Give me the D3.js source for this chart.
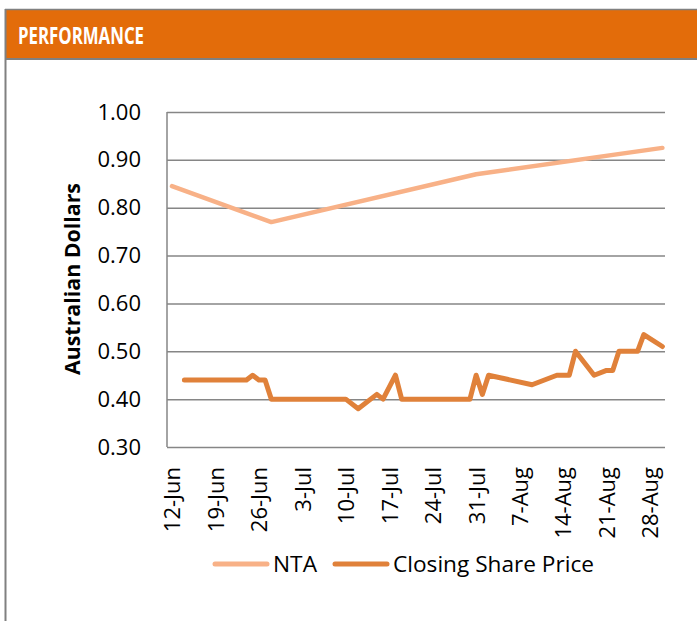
<!DOCTYPE html>
<html>
<head>
<meta charset="utf-8">
<script src="https://cdn.jsdelivr.net/npm/d3@7"></script>
<style>
  body { margin: 0; background: #fff; }
  text { font-family: "Open Sans", sans-serif; }
</style>
</head>
<body>
<svg id="chart"></svg>
<script>
// Data
const ntaDates = ['2015-06-12', '2015-06-28', '2015-07-31', '2015-08-30'];
const ntaValues = [0.845, 0.77, 0.87, 0.925];

const priceDates = ['2015-06-14', '2015-06-24', '2015-06-25', '2015-06-26', '2015-06-27', '2015-06-28',
    '2015-07-10', '2015-07-12', '2015-07-15', '2015-07-16', '2015-07-18', '2015-07-19',
    '2015-07-30', '2015-07-31', '2015-08-01', '2015-08-02', '2015-08-09', '2015-08-13',
    '2015-08-15', '2015-08-16', '2015-08-19', '2015-08-21', '2015-08-22', '2015-08-23',
    '2015-08-26', '2015-08-27', '2015-08-30'];
const priceValues = [0.44, 0.44, 0.45, 0.44, 0.44, 0.40,
    0.40, 0.38, 0.41, 0.40, 0.45, 0.40,
    0.40, 0.45, 0.41, 0.45, 0.43, 0.45,
    0.45, 0.50, 0.45, 0.46, 0.46, 0.50,
    0.50, 0.535, 0.51];

const tickDates = ['2015-06-12', '2015-06-19', '2015-06-26', '2015-07-03', '2015-07-10', '2015-07-17',
    '2015-07-24', '2015-07-31', '2015-08-07', '2015-08-14', '2015-08-21', '2015-08-28'];
const yTicks = [0.3, 0.4, 0.5, 0.6, 0.7, 0.8, 0.9, 1.0];

const seriesNames = ['NTA', 'Closing Share Price'];
const seriesColors = ['#F8B187', '#E0813A'];

const parse = d3.timeParse('%Y-%m-%d');

const W = 697, H = 621;
const margin = { top: 112, left: 167, right: 32, bottom: 174 };
const width = W - margin.left - margin.right;
const height = H - margin.top - margin.bottom;

const svg = d3.select('#chart')
    .attr('width', W)
    .attr('height', H);

// Panel frame and header band
svg.append('rect')
    .attr('x', 6).attr('y', 10)
    .attr('width', W - 6).attr('height', 48)
    .attr('fill', '#E36C0A');
svg.append('line')
    .attr('x1', 5).attr('x2', W).attr('y1', 9.5).attr('y2', 9.5)
    .attr('stroke', '#808080').attr('stroke-width', 1.5);
svg.append('line')
    .attr('x1', 5).attr('x2', W).attr('y1', 59).attr('y2', 59)
    .attr('stroke', '#808080').attr('stroke-width', 2);
svg.append('line')
    .attr('x1', 5.5).attr('x2', 5.5).attr('y1', 9).attr('y2', H)
    .attr('stroke', '#808080').attr('stroke-width', 2);
svg.append('text')
    .attr('x', 18).attr('y', 43.5)
    .attr('fill', '#fff')
    .attr('font-size', 24)
    .attr('font-weight', 'bold')
    .attr('textLength', 126)
    .attr('lengthAdjust', 'spacingAndGlyphs')
    .text('PERFORMANCE');

const chart = svg.append('g')
    .attr('transform', `translate(${margin.left},${margin.top})`);

// Scales: x domain padded a little either side as in the reference
const day = 864e5;
const xScale = d3.scaleTime()
    .domain([new Date(parse('2015-06-12') - 0.8 * day), new Date(+parse('2015-08-28') + 2.42 * day)])
    .range([0, width]);
const yScale = d3.scaleLinear()
    .domain([0.3, 1.0])
    .range([height, 0]);

// Y axis with gridlines
const yAxis = d3.axisLeft(yScale)
    .tickValues(yTicks)
    .tickFormat(d3.format('.2f'))
    .tickSize(-width)
    .tickPadding(26);
const yAxisG = chart.append('g').call(yAxis);
yAxisG.select('.domain').remove();
yAxisG.selectAll('.tick line')
    .attr('stroke', '#868686')
    .attr('stroke-width', 1.5);
yAxisG.selectAll('.tick text')
    .attr('font-size', 22)
    .attr('fill', '#000')
    .attr('font-family', '"Open Sans", sans-serif');

chart.append('line')
    .attr('x1', 0).attr('x2', 0).attr('y1', 0).attr('y2', height)
    .attr('stroke', '#868686').attr('stroke-width', 1.5);

// X axis, rotated labels
const xAxis = d3.axisBottom(xScale)
    .tickValues(tickDates.map(parse))
    .tickFormat(d3.timeFormat('%-d-%b'))
    .tickSize(0);
const xAxisG = chart.append('g')
    .attr('transform', `translate(0,${height})`)
    .call(xAxis);
xAxisG.select('.domain').remove();
xAxisG.selectAll('.tick text')
    .attr('transform', 'rotate(-90)')
    .attr('x', -20)
    .attr('y', 0)
    .attr('dy', '0.36em')
    .style('text-anchor', 'end')
    .attr('font-size', 22)
    .attr('fill', '#000')
    .attr('font-family', '"Open Sans", sans-serif');

// Y axis title
svg.append('text')
    .attr('transform', 'translate(80,279) rotate(-90)')
    .attr('text-anchor', 'middle')
    .attr('font-size', 21)
    .attr('font-weight', 'bold')
    .attr('textLength', 192)
    .attr('lengthAdjust', 'spacingAndGlyphs')
    .text('Australian Dollars');

// Lines
const line = d3.line()
    .x(d => xScale(d.date))
    .y(d => yScale(d.value));

const ntaData = ntaDates.map((d, i) => ({ date: parse(d), value: ntaValues[i] }));
const priceData = priceDates.map((d, i) => ({ date: parse(d), value: priceValues[i] }));

chart.append('path')
    .datum(ntaData)
    .attr('d', line)
    .attr('fill', 'none')
    .attr('stroke', seriesColors[0])
    .attr('stroke-width', 4.5)
    .attr('stroke-linejoin', 'round')
    .attr('stroke-linecap', 'round');

chart.append('path')
    .datum(priceData)
    .attr('d', line)
    .attr('fill', 'none')
    .attr('stroke', seriesColors[1])
    .attr('stroke-width', 5)
    .attr('stroke-linejoin', 'round')
    .attr('stroke-linecap', 'round');

// Legend
const legendX = [215, 335];
const legendW = [44, 201];
const legend = svg.selectAll('.legend')
    .data(seriesNames)
    .join('g')
    .attr('class', 'legend')
    .attr('transform', (d, i) => `translate(${legendX[i]},564)`);
legend.append('line')
    .attr('x1', 0).attr('x2', 52)
    .attr('stroke', (d, i) => seriesColors[i])
    .attr('stroke-width', 5)
    .attr('stroke-linecap', 'round');
legend.append('text')
    .attr('x', 58)
    .attr('y', 8)
    .attr('font-size', 22.5)
    .attr('textLength', (d, i) => legendW[i])
    .attr('lengthAdjust', 'spacingAndGlyphs')
    .text(d => d);
</script>
</body>
</html>
